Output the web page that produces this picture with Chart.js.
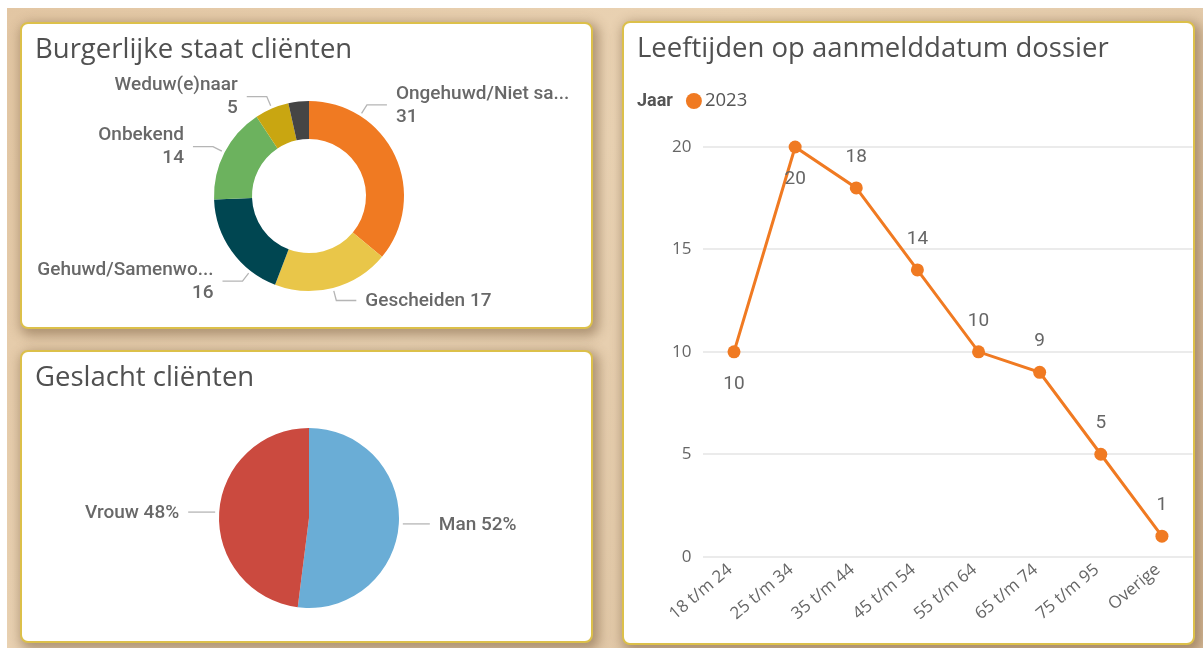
<!DOCTYPE html>
<html><head><meta charset="utf-8">
<script src="https://cdn.jsdelivr.net/npm/chart.js@4"></script>
<style>
html,body{margin:0;padding:0;background:#fff;width:1203px;height:648px;overflow:hidden}
#bg{position:absolute;left:7px;top:8px;width:1196px;height:640px;background:linear-gradient(135deg,#e2c6a3 0%,#ead3b4 40%,#d9bd9b 100%)}
.panel{position:absolute;background:#fff;border:2px solid #dcc04a;border-radius:8px;box-shadow:3px 4px 12px 3px rgba(105,75,45,0.45);box-sizing:border-box;overflow:hidden}
.title{position:absolute;left:13px;top:8px;line-height:32px;font-family:'Open Sans';font-size:27.5px;color:#505050;white-space:nowrap}
canvas{position:absolute;left:0;top:0}
</style></head>
<body>
<div id="bg"></div>
<div class="panel" style="left:20px;top:22px;width:573px;height:307px">
  <canvas id="c1" width="569" height="303"></canvas>
  <div class="title">Burgerlijke staat cliënten</div>
</div>
<div class="panel" style="left:20px;top:350px;width:573px;height:293px">
  <canvas id="c2" width="569" height="289"></canvas>
  <div class="title">Geslacht cliënten</div>
</div>
<div class="panel" style="left:622px;top:21px;width:573px;height:624px">
  <canvas id="c3" width="575" height="620"></canvas>
  <div class="title">Leeftijden op aanmelddatum dossier</div>
</div>
<script>
// ---- data ----
const burgCategories = ['Ongehuwd/Niet sa...', 'Gescheiden', 'Gehuwd/Samenwo...', 'Onbekend', 'Weduw(e)naar', 'Overig'];
const burgValues = [31, 17, 16, 14, 5, 3];
const genderCategories = ['Man', 'Vrouw'];
const genderPercent = [52, 48];
const ageCategories = ['18 t/m 24', '25 t/m 34', '35 t/m 44', '45 t/m 54', '55 t/m 64', '65 t/m 74', '75 t/m 95', 'Overige'];
const ageValues = [10, 20, 18, 14, 10, 9, 5, 1];
const seriesName = '2023';
const legendTitle = 'Jaar';

// ---- styles ----
const burgColors = ['#F07A22', '#E9C649', '#004651', '#6CB25E', '#C9A611', '#454545'];
const genderColors = ['#6AADD6', '#CB4A3F'];
const orange = '#F07A22';
const labelFont = '500 19px Roboto';
const labelColor = '#686868';

const sliceLabels = {
  id: 'sliceLabels',
  afterDatasetsDraw(chart, args, o) {
    const ctx = chart.ctx;
    const meta = chart.getDatasetMeta(0);
    const ds = chart.data.datasets[0];
    meta.data.forEach((arc, i) => {
      const mode = o.lines[i];
      if (!mode) return;
      const p = arc.getProps(['x', 'y', 'startAngle', 'endAngle', 'outerRadius'], true);
      const a = p.startAngle + (p.endAngle - p.startAngle) * o.anchor[i];
      const c = Math.cos(a), s = Math.sin(a);
      const r = p.outerRadius;
      const x0 = p.x + c * (r + o.gap0), y0 = p.y + s * (r + o.gap0);
      let x1 = p.x + c * (r + o.gap1), y1 = p.y + s * (r + o.gap1);
      if (o.flat) { y1 = y0; x1 = x0; }
      const right = c >= 0;
      const dir = right ? 1 : -1;
      const x2 = x1 + dir * o.hlen;
      ctx.save();
      ctx.strokeStyle = o.lineColor; ctx.lineWidth = 1.3;
      ctx.beginPath(); ctx.moveTo(x0, y0); ctx.lineTo(x1, y1); ctx.lineTo(x2, y1); ctx.stroke();
      ctx.font = o.font; ctx.fillStyle = o.color; ctx.textBaseline = 'middle';
      ctx.textAlign = right ? 'left' : 'right';
      const tx = x2 + dir * o.textGap;
      const name = chart.data.labels[i];
      const val = o.fmt(ds.data[i]);
      if (mode === 1) ctx.fillText(name + ' ' + val, tx, y1 + 1);
      else { ctx.fillText(name, tx, y1 - 11); ctx.fillText(val, tx, y1 + 12); }
      ctx.restore();
    });
  }
};

new Chart(document.getElementById('c1'), {
  type: 'doughnut',
  data: { labels: burgCategories, datasets: [{ data: burgValues, backgroundColor: burgColors, borderWidth: 0, hoverOffset: 0 }] },
  options: {
    responsive: false, animation: false, cutout: '60%',
    layout: { padding: { top: 77, bottom: 36, left: 100, right: 95 } },
    plugins: {
      legend: { display: false }, tooltip: { enabled: false },
      sliceLabels: { lines: [2, 1, 2, 2, 2, 0], anchor: [0.25, 0.5, 0.255, 0.5, 0.5, 0.5], gap0: 3, gap1: 13, hlen: 20, textGap: 9,
        lineColor: '#b5b5b5', font: labelFont, color: labelColor, fmt: v => String(v) }
    }
  },
  plugins: [sliceLabels]
});

new Chart(document.getElementById('c2'), {
  type: 'pie',
  data: { labels: genderCategories, datasets: [{ data: genderPercent, backgroundColor: genderColors, borderWidth: 0, hoverOffset: 0 }] },
  options: {
    responsive: false, animation: false,
    layout: { padding: { top: 76, bottom: 33, left: 100, right: 95 } },
    plugins: {
      legend: { display: false }, tooltip: { enabled: false },
      sliceLabels: { lines: [1, 1], anchor: [0.5, 0.5], gap0: 4, gap1: 4, flat: true, hlen: 27, textGap: 9,
        lineColor: '#b5b5b5', font: labelFont, color: labelColor, fmt: v => v + '%' }
    }
  },
  plugins: [sliceLabels]
});

const pointLabels = {
  id: 'pointLabels',
  afterDatasetsDraw(chart, args, o) {
    const ctx = chart.ctx;
    const meta = chart.getDatasetMeta(0);
    const ds = chart.data.datasets[0];
    ctx.save();
    ctx.font = o.font; ctx.fillStyle = o.color; ctx.textAlign = 'center'; ctx.textBaseline = 'middle';
    meta.data.forEach((pt, i) => {
      const below = o.pos[i] === 'below';
      ctx.fillText(String(ds.data[i]), pt.x, pt.y + (below ? o.offBelow : -o.offAbove));
    });
    ctx.restore();
  }
};
const customLegend = {
  id: 'customLegend',
  afterDraw(chart, args, o) {
    const ctx = chart.ctx;
    const ds = chart.data.datasets[0];
    ctx.save();
    ctx.textBaseline = 'middle';
    ctx.font = '700 18px Roboto'; ctx.fillStyle = '#555';
    ctx.fillText(o.title, o.x, o.y);
    const tw = ctx.measureText(o.title).width;
    const cx = o.x + tw + 21;
    ctx.fillStyle = ds.borderColor;
    ctx.beginPath(); ctx.arc(cx, o.y, 8, 0, Math.PI * 2); ctx.fill();
    ctx.font = '400 18.5px "Open Sans"'; ctx.fillStyle = '#555';
    ctx.fillText(ds.label, cx + 11, o.y);
    ctx.restore();
  }
};

new Chart(document.getElementById('c3'), {
  type: 'line',
  data: { labels: ageCategories, datasets: [{ label: seriesName, data: ageValues, borderColor: orange, backgroundColor: orange,
    borderWidth: 3, pointRadius: 6.5, pointHoverRadius: 6.5, pointBackgroundColor: orange, pointBorderWidth: 0, tension: 0, clip: false }] },
  options: {
    responsive: false, animation: false,
    layout: { padding: { top: 124, bottom: 16, left: 36, right: 0 } },
    scales: {
      x: { offset: true, grid: { display: false, drawTicks: false }, border: { display: false },
        ticks: { minRotation: 40, maxRotation: 40, autoSkip: false, labelOffset: -4, color: '#666', font: { family: 'Open Sans', size: 17 }, padding: 3 } },
      y: { min: 0, max: 20, grid: { color: '#ebebeb', lineWidth: 2, drawTicks: false }, border: { display: false },
        ticks: { stepSize: 5, color: '#666', font: { family: 'Open Sans', size: 17 }, padding: 12 } }
    },
    plugins: {
      legend: { display: false }, tooltip: { enabled: false },
      pointLabels: { pos: ['below', 'below', 'above', 'above', 'above', 'above', 'above', 'above'], offBelow: 32, offAbove: 31, font: '400 19px Roboto', color: '#666' },
      customLegend: { title: legendTitle, x: 13, y: 78 }
    }
  },
  plugins: [pointLabels, customLegend]
});
</script>
</body></html>
